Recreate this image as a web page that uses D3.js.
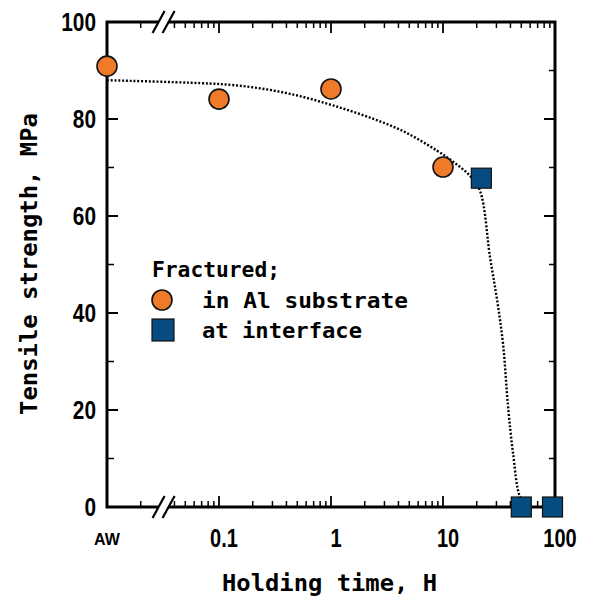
<!DOCTYPE html>
<html>
<head>
<meta charset="utf-8">
<script src="https://cdn.jsdelivr.net/npm/d3@7"></script>
<style>
  body { margin: 0; background: #fff; }
  .num { font-family: "Liberation Sans", Arial, sans-serif; font-weight: bold; }
  .mono { font-family: "DejaVu Sans Mono", monospace; font-weight: bold; }
</style>
</head>
<body>
<div id="chart"></div>
<script>
var width = 595,
    height = 598;

// data (hours, MPa); "AW" = as-welded, sits at left end
var substrateHours = ["AW", 0.1, 1, 10];
var substrateMPa = [90.9, 84.1, 86.2, 70.1];
var interfaceHours = [22, 50, 95];
var interfaceMPa = [67.8, 0, 0];

// dotted guide curve
var curveHours = ["AW", 0.068, 0.133, 0.268, 0.53, 1.04, 2.1, 4.4, 8.8, 12.3, 17.4, 21.4, 26.3, 30.4, 34.4, 38, 42.2, 48.7, 56];
var curveMPa = [88.0, 87.4, 87.0, 86.1, 84.7, 82.8, 80.5, 77.5, 73.5, 71.2, 68.3, 65.2, 51.5, 42.7, 33.5, 21.0, 11.1, 2.1, 0.3];

var yTicks = [0, 20, 40, 60, 80, 100];
var yMinor = [10, 30, 50, 70, 90];
var xTicks = [0.1, 1, 10, 100];
var xTickLabels = ["0.1", "1", "10", "100"];
var xMinor = [0.02, 0.04, 0.05, 0.06, 0.07, 0.08, 0.09,
              0.2, 0.3, 0.4, 0.5, 0.6, 0.7, 0.8, 0.9,
              2, 3, 4, 5, 6, 7, 8, 9,
              20, 30, 40, 50, 60, 70, 80, 90];
var breakAt = 0.032;

var svg = d3.select("#chart").append("svg")
    .attr("width", width)
    .attr("height", height);

var x = d3.scaleLog().domain([0.01, 100]).range([107, 555]);
var y = d3.scaleLinear().domain([0, 100]).range([507, 22]);

function xPos(h) {
    return h === "AW" ? x(x.domain()[0]) : x(h);
}

var x0 = x.range()[0], x1 = x.range()[1], y0 = y.range()[0], y1 = y.range()[1];

// ticks (inward)
var ticks = svg.append("g").attr("stroke", "#000");
ticks.selectAll("line.ymaj").data(yTicks).enter().append("line")
    .attr("x1", x0).attr("x2", x0 + 11)
    .attr("y1", function (d) { return y(d); }).attr("y2", function (d) { return y(d); })
    .attr("stroke-width", 2);
ticks.selectAll("line.ymin").data(yMinor).enter().append("line")
    .attr("x1", x0).attr("x2", x0 + 7)
    .attr("y1", function (d) { return y(d); }).attr("y2", function (d) { return y(d); })
    .attr("stroke-width", 1.5);
ticks.selectAll("line.ymajr").data(yTicks).enter().append("line")
    .attr("x1", x1).attr("x2", x1 - 11)
    .attr("y1", function (d) { return y(d); }).attr("y2", function (d) { return y(d); })
    .attr("stroke-width", 2);
ticks.selectAll("line.yminr").data(yMinor).enter().append("line")
    .attr("x1", x1).attr("x2", x1 - 6)
    .attr("y1", function (d) { return y(d); }).attr("y2", function (d) { return y(d); })
    .attr("stroke-width", 1.5);

[y0, y1].forEach(function (yy) {
    var dir = yy === y0 ? -1 : 1;
    ticks.selectAll(null).data(xTicks.slice(0, 3)).enter().append("line")
        .attr("x1", function (d) { return x(d); }).attr("x2", function (d) { return x(d); })
        .attr("y1", yy).attr("y2", yy + dir * 11)
        .attr("stroke-width", 1.8);
    ticks.selectAll(null).data(xMinor).enter().append("line")
        .attr("x1", function (d) { return x(d); }).attr("x2", function (d) { return x(d); })
        .attr("y1", yy).attr("y2", yy + dir * 6)
        .attr("stroke-width", 1.5);
});

// frame
svg.append("rect")
    .attr("x", x0).attr("y", y1)
    .attr("width", x1 - x0).attr("height", y0 - y1)
    .attr("fill", "none")
    .attr("stroke", "#000")
    .attr("stroke-width", 3);

// axis breaks "//"
var bx = x(breakAt);
[y0, y1].forEach(function (yy) {
    var g = svg.append("g");
    g.append("polygon")
        .attr("points", [[bx - 9, yy + 10], [bx + 1, yy + 10], [bx + 9, yy - 10], [bx - 1, yy - 10]].join(" "))
        .attr("fill", "#fff");
    [-5, 5].forEach(function (o) {
        g.append("line")
            .attr("x1", bx + o - 6).attr("y1", yy + 11)
            .attr("x2", bx + o + 6).attr("y2", yy - 11)
            .attr("stroke", "#000").attr("stroke-width", 2.2);
    });
});

// y labels (condensed look)
svg.selectAll("text.ylab").data(yTicks).enter().append("text")
    .attr("class", "num")
    .attr("transform", function (d) { return "translate(96," + (y(d) + 9) + ") scale(0.8,1)"; })
    .attr("text-anchor", "end")
    .attr("font-size", 26)
    .text(function (d) { return d; });

// x labels
svg.selectAll("text.xlab").data(xTicks).enter().append("text")
    .attr("class", "num")
    .attr("transform", function (d) { return "translate(" + (x(d) + 5) + ",547) scale(0.8,1)"; })
    .attr("text-anchor", "middle")
    .attr("font-size", 25)
    .text(function (d, i) { return xTickLabels[i]; });

svg.append("text")
    .attr("x", xPos("AW"))
    .attr("y", 545)
    .attr("text-anchor", "middle")
    .attr("font-family", "Liberation Sans, Arial, sans-serif")
    .attr("font-weight", "bold")
    .attr("font-size", 16)
    .text("AW");

// axis titles
svg.append("text")
    .attr("class", "mono")
    .attr("x", 222)
    .attr("y", 591)
    .attr("font-size", 23)
    .attr("textLength", 215)
    .attr("lengthAdjust", "spacingAndGlyphs")
    .text("Holding time, H");

svg.append("text")
    .attr("class", "mono")
    .attr("transform", "translate(37,415) rotate(-90)")
    .attr("font-size", 23)
    .attr("textLength", 302)
    .attr("lengthAdjust", "spacingAndGlyphs")
    .text("Tensile strength, MPa");

// dotted curve
var curve = curveHours.map(function (h, i) { return [h, curveMPa[i]]; });
svg.append("path")
    .datum(curve)
    .attr("d", d3.line()
        .x(function (d) { return xPos(d[0]); })
        .y(function (d) { return y(d[1]); })
        .curve(d3.curveCatmullRom.alpha(0.5)))
    .attr("fill", "none")
    .attr("stroke", "#000")
    .attr("stroke-width", 2.4)
    .attr("stroke-dasharray", "2,1.8");

var orange = "#ef7b2a",
    blue = "#064c80";

// substrate points
svg.selectAll("circle.pt").data(substrateHours).enter().append("circle")
    .attr("cx", function (d) { return xPos(d); })
    .attr("cy", function (d, i) { return y(substrateMPa[i]); })
    .attr("r", 10)
    .attr("fill", orange)
    .attr("stroke", "#111")
    .attr("stroke-width", 1.6);

// interface points
var sq = 20;
svg.selectAll("rect.pt").data(interfaceHours).enter().append("rect")
    .attr("x", function (d) { return x(d) - sq / 2; })
    .attr("y", function (d, i) { return y(interfaceMPa[i]) - sq / 2; })
    .attr("width", sq)
    .attr("height", sq)
    .attr("fill", blue)
    .attr("stroke", "#111")
    .attr("stroke-width", 1.2);

// legend
var legend = svg.append("g");
legend.append("text")
    .attr("class", "mono")
    .attr("x", 152).attr("y", 277)
    .attr("font-size", 21)
    .attr("textLength", 128)
    .attr("lengthAdjust", "spacingAndGlyphs")
    .text("Fractured;");
legend.append("circle")
    .attr("cx", 162).attr("cy", 300).attr("r", 10)
    .attr("fill", orange).attr("stroke", "#111").attr("stroke-width", 1.6);
legend.append("text")
    .attr("class", "mono")
    .attr("x", 202).attr("y", 308)
    .attr("font-size", 21)
    .attr("textLength", 206)
    .attr("lengthAdjust", "spacingAndGlyphs")
    .text("in Al substrate");
legend.append("rect")
    .attr("x", 152).attr("y", 319).attr("width", 22).attr("height", 22)
    .attr("fill", blue).attr("stroke", "#111").attr("stroke-width", 1.2);
legend.append("text")
    .attr("class", "mono")
    .attr("x", 202).attr("y", 338)
    .attr("font-size", 21)
    .attr("textLength", 160)
    .attr("lengthAdjust", "spacingAndGlyphs")
    .text("at interface");
</script>
</body>
</html>
